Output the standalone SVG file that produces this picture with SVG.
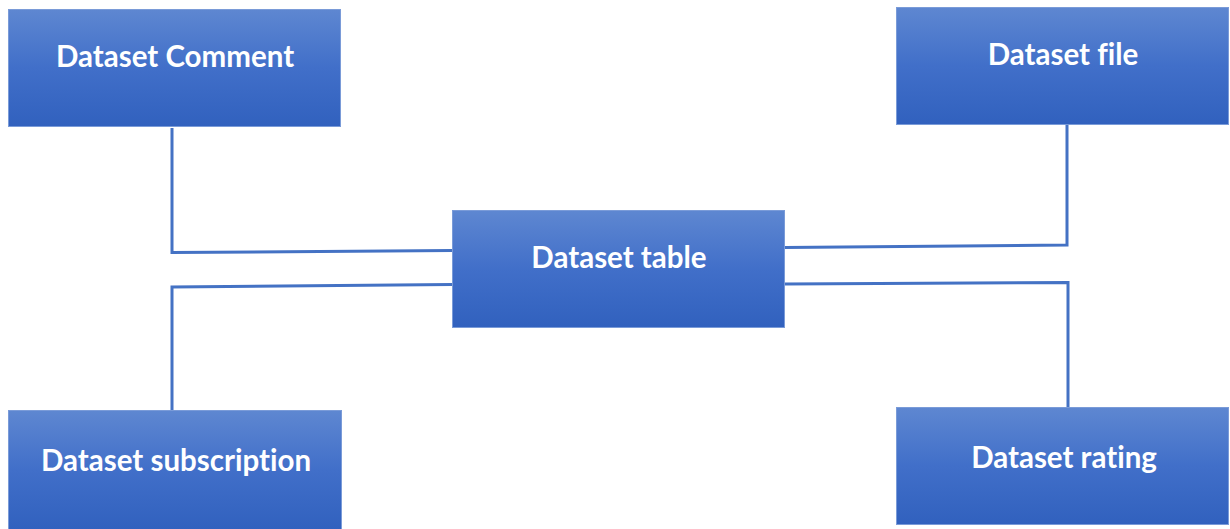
<svg xmlns="http://www.w3.org/2000/svg" width="1230" height="529" viewBox="0 0 1230 529">
<defs>
<linearGradient id="g" x1="0" y1="0" x2="0" y2="1">
<stop offset="0" stop-color="#5e87d1"/>
<stop offset="0.5" stop-color="#416fc9"/>
<stop offset="1" stop-color="#3161be"/>
</linearGradient>
</defs>
<style>
.box{fill:url(#g);stroke:#7a9bd8;stroke-width:1}
.lbl{fill:#ffffff;font-family:Lato,"Open Sans","Liberation Sans",sans-serif;font-weight:bold;font-size:29.5px;text-anchor:middle;font-variant-ligatures:none}
.con{fill:none;stroke:#4472c4;stroke-width:3;stroke-linejoin:miter}
</style>
<rect width="1230" height="529" fill="#ffffff"/>
<g id="connectors">
<polyline class="con" points="172,128 172,252.5 452,250.5"/>
<polyline class="con" points="172,410 172,287 452,284.5"/>
<polyline class="con" points="785,247.5 1067,245 1067,125"/>
<polyline class="con" points="785,284 1068,282.5 1068,407"/>
</g>
<g id="comment">
<rect class="box" x="8.5" y="9.5" width="332" height="117"/>
<text class="lbl" x="175" y="67">Dataset Comment</text>
</g>
<g id="file">
<rect class="box" x="896.5" y="7.5" width="332" height="117"/>
<text class="lbl" x="1063" y="65">Dataset file</text>
</g>
<g id="table">
<rect class="box" x="452.5" y="210.5" width="332" height="117"/>
<text class="lbl" x="619" y="268">Dataset table</text>
</g>
<g id="subscription">
<rect class="box" x="8.5" y="410.5" width="333" height="119"/>
<text class="lbl" x="176" y="471">Dataset subscription</text>
</g>
<g id="rating">
<rect class="box" x="896.5" y="407.5" width="332" height="117"/>
<text class="lbl" x="1064" y="468">Dataset rating</text>
</g>
</svg>
